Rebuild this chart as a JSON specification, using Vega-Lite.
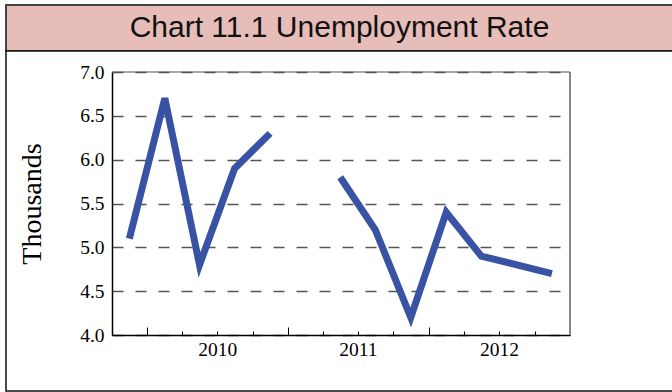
{
  "$schema": "https://vega.github.io/schema/vega-lite/v6.json",
  "padding": {"left": 5, "top": 4, "right": 0, "bottom": 0},
  "background": "white",
  "spacing": 0,
  "bounds": "flush",
  "vconcat": [
    {
      "width": 667,
      "height": 46,
      "view": {"fill": "#e6bdb8", "stroke": "#444444", "strokeWidth": 2},
      "data": {"values": [{"title": "Chart 11.1 Unemployment Rate"}]},
      "mark": {"type": "text", "font": "Liberation Sans", "fontSize": 30, "color": "#111111"},
      "encoding": {"text": {"field": "title", "type": "nominal"}}
    },
    {
      "width": 667,
      "height": 340,
      "view": {"fill": "white", "stroke": "#111111", "strokeWidth": 1.5},
      "layer": [
        {
          "data": {"values": [{"a": 1}]},
          "mark": {"type": "rule", "color": "#888888", "strokeWidth": 2},
          "encoding": {
            "x": {"datum": {"year": 2013, "month": 1, "date": 1, "utc": true}, "type": "temporal"},
            "y": {"datum": 4, "type": "quantitative"},
            "y2": {"datum": 7}
          }
        },
        {
          "data": {"values": [{"a": 1}]},
          "mark": {"type": "rule", "color": "#555555", "strokeWidth": 1},
          "encoding": {
            "x": {"datum": {"year": 2009, "month": 10, "date": 1, "utc": true}, "type": "temporal"},
            "x2": {"datum": {"year": 2013, "month": 1, "date": 1, "utc": true}},
            "y": {"datum": 7, "type": "quantitative"}
          }
        },
        {
          "data": {
            "values": [
              {"date": "2009-11-15", "rate": 5.1},
              {"date": "2010-02-15", "rate": 6.7},
              {"date": "2010-05-16", "rate": 4.8},
              {"date": "2010-08-15", "rate": 5.9},
              {"date": "2010-11-15", "rate": 6.3},
              {"date": "2011-02-15", "rate": null},
              {"date": "2011-05-16", "rate": 5.8},
              {"date": "2011-08-15", "rate": 5.2},
              {"date": "2011-11-15", "rate": 4.2},
              {"date": "2012-02-15", "rate": 5.4},
              {"date": "2012-05-16", "rate": 4.9},
              {"date": "2012-11-15", "rate": 4.7}
            ]
          },
          "mark": {
            "type": "line",
            "color": "#3953a4",
            "strokeWidth": 7,
            "strokeJoin": "miter",
            "strokeCap": "butt",
            "invalid": "break-paths-filter-domains"
          },
          "encoding": {
            "x": {
              "field": "date",
              "type": "temporal",
              "scale": {
                "type": "utc",
                "domain": [
                  {"year": 2009, "month": 10, "date": 1, "utc": true},
                  {"year": 2013, "month": 1, "date": 1, "utc": true}
                ],
                "range": [106, 564],
                "nice": false
              },
              "axis": {
                "orient": "bottom",
                "offset": -56,
                "title": null,
                "tickCount": {"interval": "month", "step": 3},
                "labelExpr": "utcmonth(datum.value) === 6 ? utcFormat(datum.value, '%Y') : ''",
                "tickSize": {"condition": {"test": "utcmonth(datum.value) === 0", "value": -8}, "value": -4},
                "tickColor": "#000000",
                "tickWidth": 1,
                "domainColor": "#000000",
                "domainWidth": 1.5,
                "labelFont": "Liberation Serif",
                "labelFontSize": 19.5,
                "labelColor": "#000000",
                "labelPadding": 9,
                "labelOverlap": false,
                "labelFlush": false,
                "grid": false
              }
            },
            "y": {
              "field": "rate",
              "type": "quantitative",
              "scale": {"domain": [4, 7], "range": [284, 21], "zero": false, "nice": false},
              "axis": {
                "orient": "left",
                "offset": -106,
                "values": [4, 4.5, 5, 5.5, 6, 6.5, 7],
                "format": ".1f",
                "ticks": false,
                "domainColor": "#000000",
                "domainWidth": 1.5,
                "grid": true,
                "gridDash": [11, 12],
                "gridColor": "#555555",
                "gridWidth": 1.5,
                "labelFont": "Liberation Serif",
                "labelFontSize": 19.5,
                "labelColor": "#000000",
                "labelPadding": 8,
                "title": "Thousands",
                "titleFont": "Liberation Serif",
                "titleFontSize": 28,
                "titleFontWeight": "normal",
                "titleColor": "#000000",
                "titlePadding": 33
              }
            }
          }
        }
      ]
    }
  ]
}
